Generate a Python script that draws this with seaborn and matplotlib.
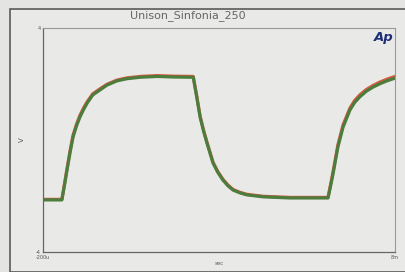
import numpy as np
import pandas as pd
import seaborn as sns
import matplotlib.pyplot as plt
from matplotlib.patches import Rectangle

# time in ms
t_ms = [-0.20, 0.24, 0.30, 0.36, 0.43, 0.50, 0.58, 0.66, 0.75, 0.83, 0.96, 1.13, 1.29,
        1.52, 1.76, 2.06, 2.46, 2.83, 3.30, 3.38, 3.46, 3.54, 3.62, 3.76, 3.87, 3.99,
        4.11, 4.23, 4.39, 4.55, 4.93, 5.55, 6.44, 6.50, 6.56, 6.67, 6.79, 6.95, 7.06,
        7.18, 7.33, 7.49, 7.65, 7.81, 8.00]

# green channel (volts)
ch_green = [-2.14, -2.14, -1.62, -1.07, -0.45, 0.11, 0.50, 0.82, 1.10, 1.32, 1.61, 1.79,
            1.96, 2.11, 2.19, 2.24, 2.27, 2.25, 2.24, 1.55, 0.82, 0.32, -0.11, -0.82,
            -1.15, -1.43, -1.64, -1.79, -1.89, -1.96, -2.03, -2.07, -2.07, -1.64, -1.18,
            -0.25, 0.46, 1.07, 1.34, 1.54, 1.74, 1.89, 2.01, 2.11, 2.21]

# red channel (volts), a hair above the green one
ch_red = [-2.12, -2.12, -1.57, -1.02, -0.39, 0.17, 0.56, 0.88, 1.16, 1.37, 1.65, 1.83,
          1.99, 2.14, 2.22, 2.27, 2.30, 2.28, 2.27, 1.58, 0.85, 0.35, -0.08, -0.79,
          -1.12, -1.40, -1.61, -1.77, -1.87, -1.94, -2.01, -2.05, -2.05, -1.58, -1.11,
          -0.17, 0.54, 1.14, 1.41, 1.61, 1.80, 1.95, 2.07, 2.17, 2.27]

df = pd.concat([
    pd.DataFrame({"t": t_ms, "v": ch_red, "ch": "red"}),
    pd.DataFrame({"t": t_ms, "v": ch_green, "ch": "green"}),
])

sns.set_style("white")
bg = "#e9e9e7"
fig = plt.figure(figsize=(4.05, 2.72), dpi=100, facecolor="#e4e4e2")
fig.patches.append(Rectangle((10 / 405, 0.0), 1.0, 1 - 9 / 272, transform=fig.transFigure,
                             facecolor=bg, edgecolor="#5a5a5a", linewidth=1.2, zorder=-10))
ax = fig.add_axes([43 / 405, 1 - 252 / 272, 352 / 405, 224 / 272])
ax.set_facecolor(bg)
ax.set_zorder(5)

sns.lineplot(data=df, x="t", y="v", hue="ch", palette={"red": "#d8573e", "green": "#4c7d3d"},
             linewidth=2.3, legend=False, ax=ax, sort=False)

ax.set_xlim(-0.2, 8.0)
ax.set_ylim(-4, 4)
ax.set_xticks(np.linspace(-0.2, 8.0, 11))
ax.set_xticklabels(["-200u"] + [""] * 9 + ["8m"])
ax.set_yticks(np.linspace(-4, 4, 11))
ax.set_yticklabels(["-4"] + [""] * 9 + ["4"])
ax.tick_params(axis="both", direction="in", length=3, width=0.6, colors="#777777",
               labelsize=3.5, labelcolor="#555555", pad=1.5)
ax.tick_params(axis="x", pad=2)
for side in ["left", "bottom"]:
    ax.spines[side].set_color("#666666")
    ax.spines[side].set_linewidth(0.9)
for side in ["top", "right"]:
    ax.spines[side].set_color("#9a9a9a")
    ax.spines[side].set_linewidth(0.8)

ax.set_xlabel("sec", fontsize=4, color="#555555", labelpad=1)
ax.set_ylabel("V", fontsize=5, color="#555555", labelpad=8)
fig.text(188 / 405, 1 - 16 / 272, "Unison_Sinfonia_250", ha="center", va="center",
         fontsize=8, color="#666666")
ax.text(0.995, 0.985, "Ap", transform=ax.transAxes, ha="right", va="top",
        fontsize=9.5, fontweight="bold", style="italic", color="#1e2f7a")

fig.savefig("out.png", dpi=100, facecolor=fig.get_facecolor())
